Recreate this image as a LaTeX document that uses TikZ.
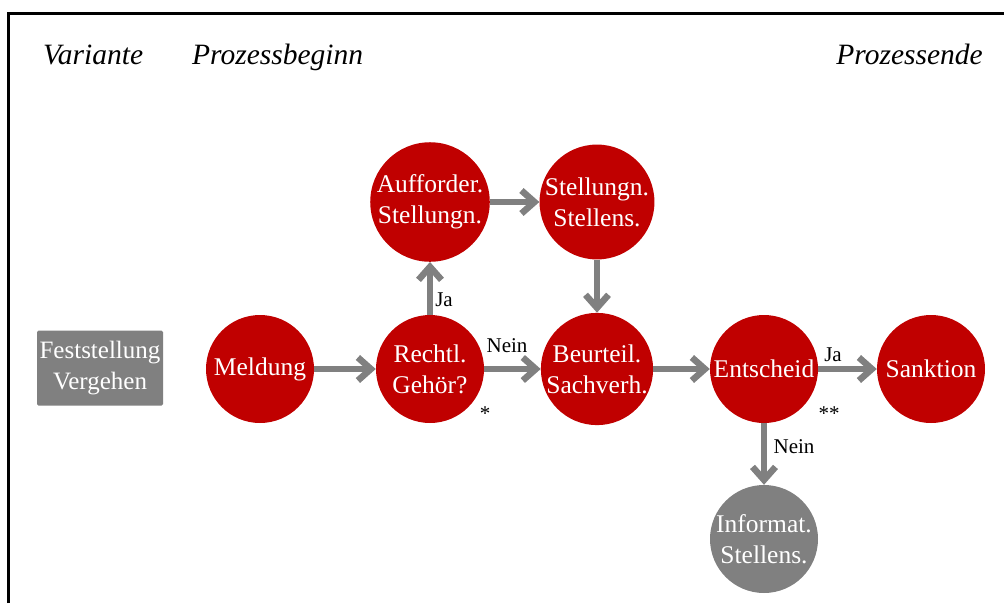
\documentclass[tikz,border=0pt]{standalone}
\usepackage{fontspec}
\setmainfont{Liberation Serif}
\usetikzlibrary{arrows.meta}
\definecolor{dred}{HTML}{C00000}
\definecolor{dgray}{HTML}{808080}
\tikzset{
  circ/.style={circle,fill=dred,text=white,minimum size=108pt,inner sep=0pt,align=center,font=\fontsize{25.5}{31}\selectfont},
  gcirc/.style={circ,fill=dgray},
  gbox/.style={rectangle,rounded corners=1.5pt,fill=dgray,text=white,minimum width=126pt,minimum height=75pt,inner sep=0pt,align=center,font=\fontsize{25}{31}\selectfont},
  arr/.style={draw=dgray,line width=6.5pt,-{Straight Barb[length=13pt,width=23pt,line width=6.5pt]}},
  lbl/.style={inner sep=0pt,font=\fontsize{21}{24}\selectfont},
  ttl/.style={inner sep=0pt,anchor=base west,font=\fontsize{29.5}{32}\selectfont\itshape},
}
\begin{document}
\begin{tikzpicture}[x=1pt,y=-1pt]
\useasboundingbox (0,0) rectangle (1004,603);
\draw[line width=3pt] (8,603) -- (8,13) -- (1004,13);
\node[ttl] (t1) at (43,64) {Variante};
\node[ttl] (t2) at (192,64) {Prozessbeginn};
\node[ttl,anchor=base east] (t3) at (983,64) {Prozessende};
\node[gbox] (fest) at (100,368) {Feststellung\\Vergehen};
\node[circ] (meld) at (260,369) {Meldung};
\node[circ] (recht) at (430,369) {Rechtl.\\Gehör?};
\node[circ] (auff) at (430,202) {Aufforder.\\Stellungn.};
\node[circ] (stel) at (597,202) {Stellungn.\\Stellens.};
\node[circ] (beur) at (597,369) {Beurteil.\\Sachverh.};
\node[circ] (ents) at (764,369) {Entscheid};
\node[circ] (sank) at (931,369) {Sanktion};
\node[gcirc] (info) at (764,539) {Informat.\\Stellens.};
\draw[arr] (meld) -- (recht);
\draw[arr] (recht) -- (auff);
\draw[arr] (auff) -- (stel);
\draw[arr] (stel) -- (beur);
\draw[arr] (recht) -- (beur);
\draw[arr] (beur) -- (ents);
\draw[arr] (ents) -- (sank);
\draw[arr] (ents) -- (info);
\node[lbl] (l1) at (444,300) {Ja};
\node[lbl] (l2) at (507,346) {Nein};
\node[lbl] (l3) at (485,414) {*};
\node[lbl] (l4) at (833,355) {Ja};
\node[lbl] (l5) at (829,414) {**};
\node[lbl] (l6) at (794,447) {Nein};
\end{tikzpicture}
\end{document}
